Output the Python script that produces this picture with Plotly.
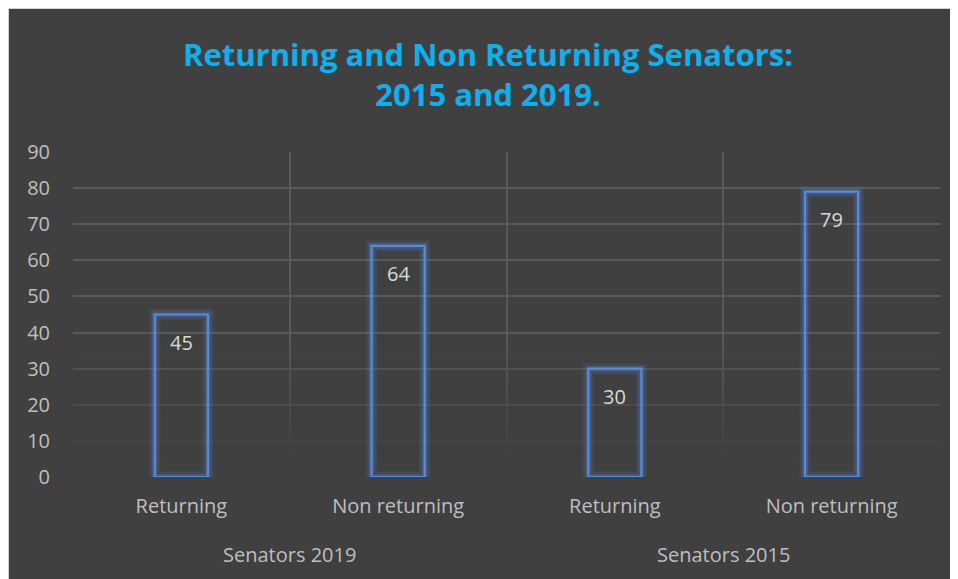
import plotly.graph_objects as go

groups = ["Senators 2019", "Senators 2019", "Senators 2015", "Senators 2015"]
categories = ["Returning", "Non returning", "Returning", "Non returning"]
values = [45, 64, 30, 79]
group_labels = ["Senators 2019", "Senators 2015"]
y_ticks = [0, 10, 20, 30, 40, 50, 60, 70, 80, 90]

BG = "#404040"
FONT = "Open Sans, Calibri, sans-serif"
xpos = list(range(len(categories)))
bar_w = 0.245
x_range = [-0.5, len(categories) - 0.5]

W, H = 950, 571
ML, MR, MT, MB = 65, 18, 144, 102
PW, PH = W - ML - MR, H - MT - MB

fig = go.Figure()

# glow
fig.add_trace(go.Bar(
    x=xpos, y=values, width=bar_w,
    marker=dict(color="rgba(0,0,0,0)", line=dict(color="rgba(80,130,210,0.16)", width=11)),
    hoverinfo="skip", showlegend=False))
fig.add_trace(go.Bar(
    x=xpos, y=values, width=bar_w,
    marker=dict(color="rgba(0,0,0,0)", line=dict(color="rgba(80,130,210,0.28)", width=6)),
    hoverinfo="skip", showlegend=False))
# main outline
fig.add_trace(go.Bar(
    x=xpos, y=values, width=bar_w,
    marker=dict(color="rgba(0,0,0,0)", line=dict(color="#5A8BD4", width=2.2)),
    showlegend=False))

for xi, v in zip(xpos, values):
    fig.add_annotation(x=xi, y=v, text=str(v), showarrow=False, yshift=-28,
                       font=dict(family=FONT, size=20, color="#D9D9D9"))

gx = [0.5, 2.5]
for gxi, gl in zip(gx, group_labels):
    fig.add_annotation(x=gxi, xref="x", y=-77 / PH, yref="paper", text=gl, showarrow=False,
                       yanchor="middle", font=dict(family=FONT, size=20, color="#BFBFBF"))

# gridlines fade toward the bottom (bands drawn between grid and bars)
fade_top = 40.0
steps = 16
for k in range(steps):
    y0 = fade_top * k / steps
    y1 = fade_top * (k + 1) / steps
    op = 1 - (y0 + y1) / 2 / fade_top
    fig.add_shape(type="rect", xref="x", yref="y", x0=x_range[0] - 0.01, x1=x_range[1] + 0.01,
                  y0=y0 - (0.5 if k == 0 else 0), y1=y1,
                  fillcolor=BG, opacity=min(1.0, op * 1.1), line=dict(width=0), layer="between")

# light frame around the chart area
fig.add_shape(type="rect", xref="paper", yref="paper",
              x0=-ML / PW, x1=(PW + MR + 5) / PW, y0=-(MB + 5) / PH, y1=(PH + MT) / PH,
              fillcolor="rgba(0,0,0,0)", line=dict(color="#D4D4D4", width=2), layer="below")

fig.update_layout(
    width=W, height=H,
    paper_bgcolor=BG, plot_bgcolor=BG,
    margin=dict(l=ML, r=MR, t=MT, b=MB),
    barmode="overlay",
    title=dict(text="Returning and Non Returning Senators:<br>2015 and 2019.",
               x=480 / W, xanchor="center", y=1 - 57.5 / H, yanchor="middle",
               font=dict(family=FONT, size=31, color="#0EB0EE", weight="bold")),
    xaxis=dict(range=x_range, tickvals=xpos, ticktext=categories, showgrid=False,
               zeroline=False, showline=False, ticks="", ticklabelstandoff=15,
               tickfont=dict(family=FONT, size=20, color="#BFBFBF"),
               minor=dict(tickvals=[-0.5, 0.5, 1.5, 2.5, 3.5], showgrid=True,
                          gridcolor="#5A5A5A", gridwidth=1.5, ticks="")),
    yaxis=dict(range=[0, 90], tickvals=y_ticks, showgrid=True, gridcolor="#5A5A5A", gridwidth=1.5,
               zeroline=False, showline=False, ticks="", ticklabelstandoff=22,
               tickfont=dict(family=FONT, size=20, color="#BFBFBF")),
)

fig.write_html("out.html")
